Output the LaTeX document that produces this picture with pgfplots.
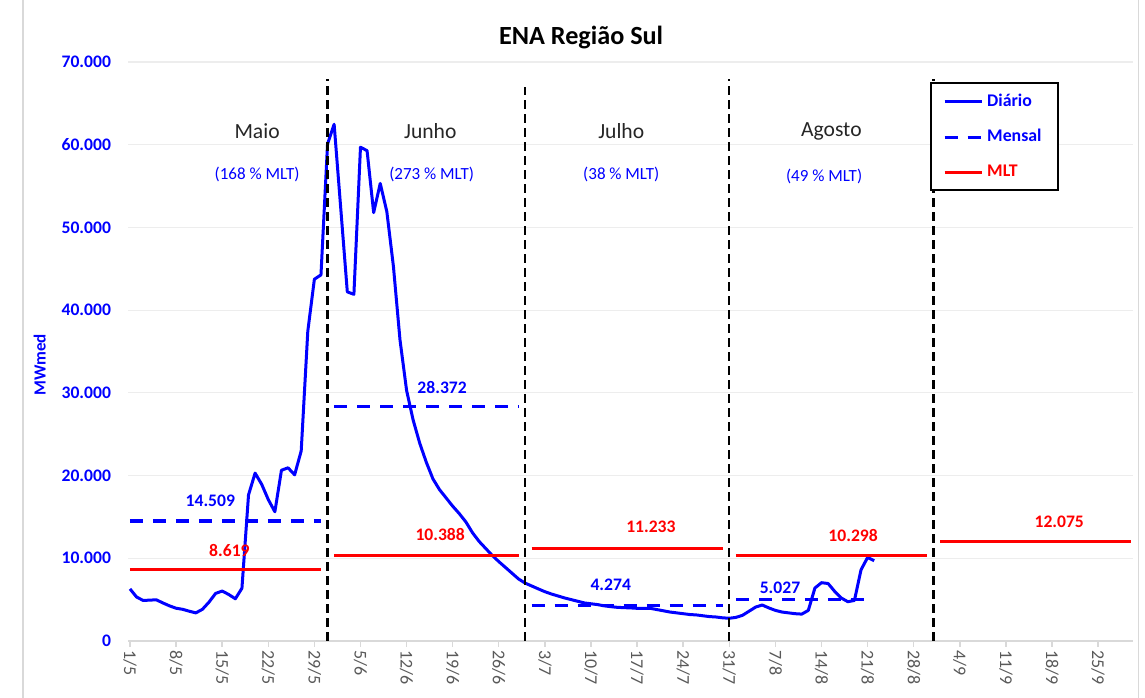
\documentclass[border=0pt]{standalone}
\usepackage{fontspec}
\setmainfont{Carlito}
\usepackage{pgfplots}
\pgfplotsset{compat=1.18}
\definecolor{ena}{HTML}{0000FF}
\definecolor{mlt}{HTML}{FF0000}
\definecolor{txtgray}{HTML}{595959}
\definecolor{gridgray}{HTML}{EDEDED}
\definecolor{axgray}{HTML}{D9D9D9}
\newcommand\fs[1]{\fontsize{#1}{#1}\selectfont}

\begin{document}
\begin{tikzpicture}
\begin{axis}[
  name=ax, scale only axis, width=502.5pt, height=289.5pt,
  xmin=-0.3, xmax=152.3, ymin=0, ymax=70000,
  clip=false,
  axis x line*=bottom, axis y line*=left,
  x axis line style={draw=axgray, line width=0.7pt},
  y axis line style={draw=none},
  xtick={0,7,...,147},
  xticklabels={1/5,8/5,15/5,22/5,29/5,5/6,12/6,19/6,26/6,3/7,10/7,17/7,24/7,31/7,7/8,14/8,21/8,28/8,4/9,11/9,18/9,25/9},
  xtick align=outside, major tick length=3pt,
  xtick style={draw=axgray, line width=0.7pt},
  xticklabel style={rotate=-90, anchor=west, font=\fs{9}, text=txtgray, inner sep=1.5pt},
  scaled y ticks=false,
  ytick={0,10000,...,70000},
  yticklabels={0,10.000,20.000,30.000,40.000,50.000,60.000,70.000},
  ytick style={draw=none},
  yticklabel style={font=\bfseries\fs{8.8}, text=ena, xshift=-5pt},
  ymajorgrids, grid style={draw=gridgray, line width=0.6pt},
  legend cell align=left,
  legend image code/.code={\draw[#1] (0pt,0pt) -- (18.5pt,0pt);},
  legend style={at={(0.798,0.9655)}, anchor=north west, draw=black, line width=1pt,
    fill=white, font=\bfseries\fs{8.9}, row sep=6pt, inner xsep=6pt, inner ysep=3.5pt},
]
% diario
\addplot[ena, line width=1.5pt, line join=round] coordinates {
(0,6300) (1,5320) (2,4900) (3,4940) (4,4980) (5,4600) (6,4250) (7,3960) (8,3830) (9,3600)
(10,3400) (11,3830) (12,4700) (13,5750) (14,6040) (15,5620) (16,5100) (17,6380) (18,17660) (19,20300)
(20,18940) (21,17100) (22,15620) (23,20640) (24,20940) (25,20090) (26,22980) (27,37450) (28,43740) (29,44260)
(30,60090) (31,62470) (32,52340) (33,42210) (34,41910) (35,59700) (36,59280) (37,51790) (38,55320) (39,51910)
(40,45300) (41,36400) (42,30300) (43,26700) (44,23900) (45,21600) (46,19600) (47,18300) (48,17300) (49,16300)
(50,15400) (51,14400) (52,13100) (53,12050) (54,11200) (55,10350) (56,9600) (57,8900) (58,8200) (59,7500)
(60,7000) (61,6650) (62,6300) (63,5960) (64,5680) (65,5440) (66,5200) (67,5000) (68,4800) (69,4600)
(70,4500) (71,4400) (72,4250) (73,4150) (74,4070) (75,4030) (76,4000) (77,3950) (78,3950) (79,3950)
(80,3800) (81,3650) (82,3500) (83,3400) (84,3300) (85,3200) (86,3150) (87,3050) (88,2950) (89,2900)
(90,2800) (91,2750) (92,2850) (93,3100) (94,3600) (95,4100) (96,4350) (97,4000) (98,3700) (99,3500)
(100,3400) (101,3300) (102,3250) (103,3700) (104,6400) (105,7050) (106,6950) (107,6000) (108,5200) (109,4750)
(110,4900) (111,8600) (112,10100) (113,9700)};
\addlegendentry{\textcolor{ena}{Diário}}
% mensal
\addplot[ena, line width=1.6pt, dash pattern=on 6.5pt off 5pt] coordinates {(0,14509) (29,14509)};
\addlegendentry{\textcolor{ena}{Mensal}}
\addplot[ena, line width=1.6pt, dash pattern=on 6.5pt off 5pt, forget plot] coordinates {(31,28372) (59,28372)};
\addplot[ena, line width=1.6pt, dash pattern=on 6.5pt off 5pt, forget plot] coordinates {(61,4274) (90,4274)};
\addplot[ena, line width=1.6pt, dash pattern=on 6.5pt off 5pt, forget plot] coordinates {(92,5027) (112,5027)};
% MLT
\addplot[mlt, line width=1.5pt] coordinates {(0,8619) (29,8619)};
\addlegendentry{\textcolor{mlt}{MLT}}
\addplot[mlt, line width=1.5pt, forget plot] coordinates {(31,10388) (59,10388)};
\addplot[mlt, line width=1.5pt, forget plot] coordinates {(61,11233) (90,11233)};
\addplot[mlt, line width=1.5pt, forget plot] coordinates {(92,10298) (121,10298)};
\addplot[mlt, line width=1.5pt, forget plot] coordinates {(123,12075) (152,12075)};
% divisorias dos meses
\addplot[black, line width=1.1pt, dash pattern=on 4.5pt off 2.5pt, forget plot] coordinates {(30,0) (30,68000)};
\addplot[black, line width=1.1pt, dash pattern=on 4.5pt off 2.5pt, forget plot] coordinates {(60,0) (60,67000)};
\addplot[black, line width=1.1pt, dash pattern=on 4.5pt off 2.5pt, forget plot] coordinates {(91,0) (91,68000)};
\addplot[black, line width=1.1pt, dash pattern=on 4.5pt off 2.5pt, forget plot] coordinates {(122,0) (122,68000)};

% textos
\node[font=\bfseries\fs{13.1}, text=black] at (axis cs:68.5,72900) {ENA Região Sul};
\node[font=\bfseries\fs{8.5}, text=ena, rotate=90] at (axis cs:-13.7,33400) {MWmed};
\begin{scope}[every node/.style={font=\fs{10.8}, text=black!85}]
\node at (axis cs:19.3,61600) {Maio};
\node at (axis cs:45.6,61600) {Junho};
\node at (axis cs:74.6,61700) {Julho};
\node at (axis cs:106.5,61600) {Agosto};
\end{scope}
\begin{scope}[every node/.style={font=\fs{8.5}, text=ena}]
\node at (axis cs:19.3,56400) {(168 \% MLT)};
\node at (axis cs:45.8,56400) {(273 \% MLT)};
\node at (axis cs:74.6,56400) {(38 \% MLT)};
\node at (axis cs:105.4,56200) {(49 \% MLT)};
\end{scope}
\begin{scope}[every node/.style={font=\bfseries\fs{8.8}}]
\node[text=ena] at (axis cs:12.2,16900) {14.509};
\node[text=mlt] at (axis cs:15.1,11000) {8.619};
\node[text=ena] at (axis cs:47.4,30700) {28.372};
\node[text=mlt] at (axis cs:47.1,12900) {10.388};
\node[text=mlt] at (axis cs:79.1,13800) {11.233};
\node[text=ena] at (axis cs:73.0,6800) {4.274};
\node[text=ena] at (axis cs:98.7,6400) {5.027};
\node[text=mlt] at (axis cs:109.8,12700) {10.298};
\node[text=mlt] at (axis cs:141.1,14400) {12.075};
\end{scope}
\draw[axgray, line width=0.6pt] (axis cs:-16.25,-9000) -- (axis cs:-16.25,80000);
\draw[axgray, line width=0.6pt] (axis cs:153.1,-9000) -- (axis cs:153.1,80000);
\end{axis}
\pgfresetboundingbox
\path[use as bounding box] ([shift={(-64pt,-28.5pt)}]ax.south west) rectangle ([shift={(6pt,31pt)}]ax.north east);
\end{tikzpicture}
\end{document}
